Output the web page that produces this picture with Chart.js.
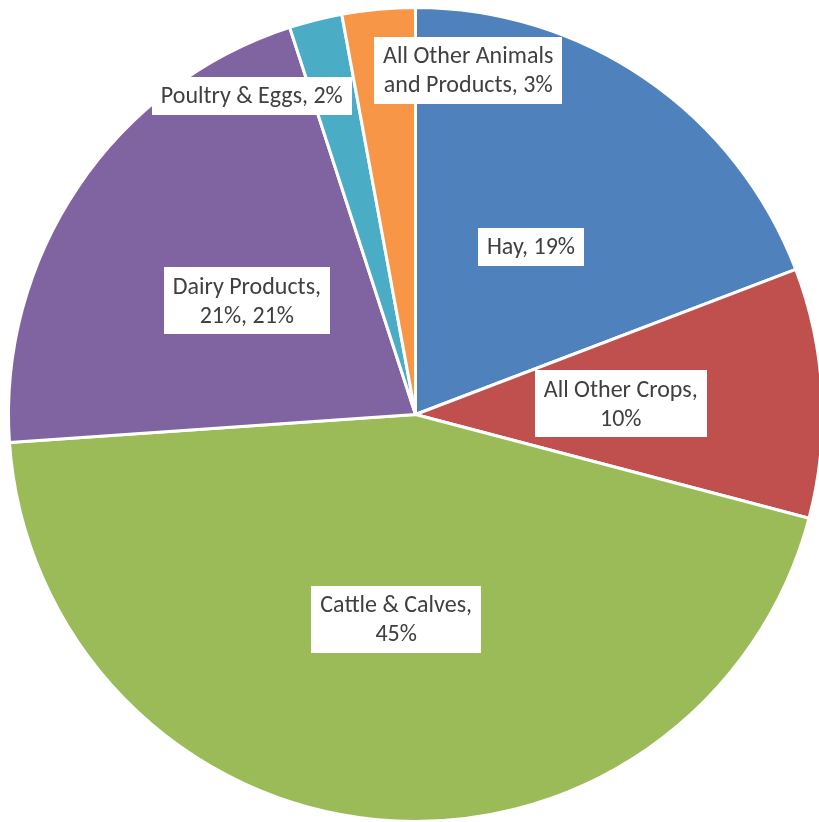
<!DOCTYPE html>
<html>
<head>
<meta charset="utf-8">
<script src="https://cdn.jsdelivr.net/npm/chart.js@4.4.1/dist/chart.umd.min.js"></script>
<style>
  html, body { margin: 0; padding: 0; background: #ffffff; }
  #wrap { width: 819px; height: 822px; overflow: hidden; position: relative; }
  canvas { display: block; }
</style>
</head>
<body>
<div id="wrap"><canvas id="c" width="830" height="830"></canvas></div>
<script>
// ---- Data ----
const categories = ["Hay", "All Other Crops", "Cattle & Calves", "Dairy Products", "Poultry & Eggs", "All Other Animals and Products"];
const shares = [19.2, 9.9, 44.8, 21.1, 2.1, 2.9];
const labelLines = [
  ["Hay, 19%"],
  ["All Other Crops,", "10%"],
  ["Cattle & Calves,", "45%"],
  ["Dairy Products,", "21%, 21%"],
  ["Poultry & Eggs, 2%"],
  ["All Other Animals", "and Products, 3%"]
];

// ---- Styles ----
const sliceColors = ["#4F81BD", "#C0504D", "#9BBB59", "#8064A2", "#4BACC6", "#F79646"];
// label placement: radial fraction of radius, optional absolute angle (deg clockwise from top)
const labelPlacement = [
  { frac: 0.50 },
  { frac: 0.505 },
  { frac: 0.505 },
  { frac: 0.50 },
  { frac: 0.88, angle: 332.8 },
  { frac: 0.856, angle: 8.7 }
];
const FONT_SIZE = 24;
const FONT = FONT_SIZE + "px Carlito, Calibri, Lato, 'Liberation Sans', sans-serif";
const LINE_H = 29;
const PAD_X = 9, PAD_Y = 4.5;

const labelPlugin = {
  id: 'boxLabels',
  afterDatasetsDraw(chart) {
    const ctx = chart.ctx;
    const meta = chart.getDatasetMeta(0);
    ctx.save();
    ctx.font = FONT;
    ctx.textAlign = 'center';
    ctx.textBaseline = 'middle';
    meta.data.forEach((arc, i) => {
      const p = arc.getProps(['x', 'y', 'startAngle', 'endAngle', 'outerRadius'], true);
      const pl = labelPlacement[i];
      let ang = (p.startAngle + p.endAngle) / 2;
      if (pl.angle !== undefined) ang = pl.angle * Math.PI / 180 - Math.PI / 2;
      const cx = p.x + Math.cos(ang) * p.outerRadius * pl.frac;
      const cy = p.y + Math.sin(ang) * p.outerRadius * pl.frac;
      const lines = labelLines[i];
      const w = Math.max(...lines.map(l => ctx.measureText(l).width)) + 2 * PAD_X;
      const h = lines.length * LINE_H + 2 * PAD_Y;
      ctx.fillStyle = '#ffffff';
      ctx.fillRect(Math.round(cx - w / 2), Math.round(cy - h / 2), Math.round(w), Math.round(h));
      ctx.fillStyle = '#404040';
      lines.forEach((l, k) => {
        ctx.fillText(l, cx, cy - h / 2 + PAD_Y + LINE_H * (k + 0.5) + 1.5);
      });
    });
    ctx.restore();
  }
};

new Chart(document.getElementById('c'), {
  type: 'pie',
  data: {
    labels: categories,
    datasets: [{
      data: shares,
      backgroundColor: sliceColors,
      borderColor: '#ffffff',
      borderWidth: 3
    }]
  },
  options: {
    responsive: false,
    animation: false,
    devicePixelRatio: 1,
    layout: { padding: { left: 7, top: 6, right: 6, bottom: 7 } },
    plugins: { legend: { display: false }, tooltip: { enabled: false } }
  },
  plugins: [labelPlugin]
});
</script>
</body>
</html>
